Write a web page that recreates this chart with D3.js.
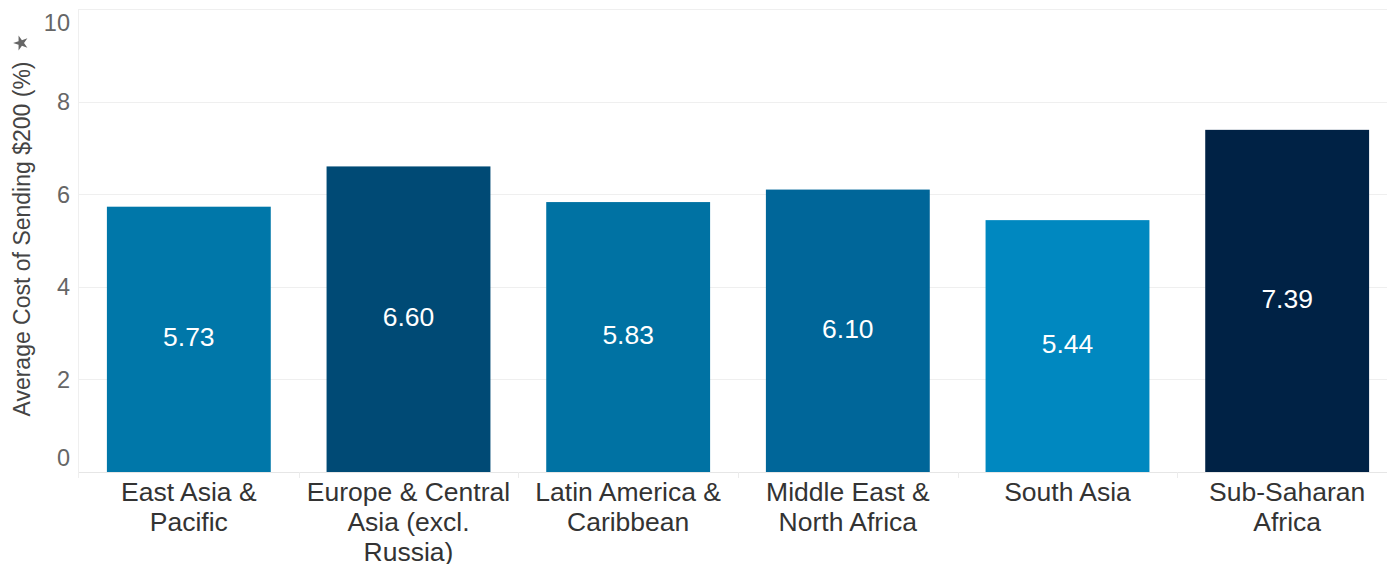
<!DOCTYPE html>
<html>
<head>
<meta charset="utf-8">
<script src="https://cdn.jsdelivr.net/npm/d3@7"></script>
<style>
  html, body { margin: 0; padding: 0; background: #fff; }
  svg { display: block; font-family: "Liberation Sans", Arial, sans-serif; }
</style>
</head>
<body>
<svg id="chart" width="1387" height="564"></svg>
<script>
// Average cost of sending $200, by region (%)
const regions = [
  ["East Asia &", "Pacific"],
  ["Europe & Central", "Asia (excl.", "Russia)"],
  ["Latin America &", "Caribbean"],
  ["Middle East &", "North Africa"],
  ["South Asia"],
  ["Sub-Saharan", "Africa"]
];
const costs = [5.73, 6.60, 5.83, 6.10, 5.44, 7.39];
const barColors = ["#0077a9", "#004a75", "#0072a3", "#006699", "#0088c0", "#002245"];
const yTicks = [0, 2, 4, 6, 8, 10];
const yTitle = "Average Cost of Sending $200 (%)";

const svg = d3.select("#chart");
const paneLeft = 79, paneRight = 1397, paneTop = 9, paneBottom = 472;

const x = d3.scaleBand()
  .domain(d3.range(costs.length))
  .range([paneLeft, paneRight])
  .paddingInner(0.254)
  .paddingOuter(0.127);

const y = d3.scaleLinear().domain([0, 10]).range([paneBottom, paneTop]);

// horizontal gridlines
svg.append("g").selectAll("line")
  .data(yTicks)
  .join("line")
  .attr("x1", paneLeft).attr("x2", 1387)
  .attr("y1", d => Math.round(y(d)) + 0.5)
  .attr("y2", d => Math.round(y(d)) + 0.5)
  .attr("stroke", d => d === 0 ? "#e6e6e6" : "#efefef")
  .attr("stroke-width", 1);

// left pane border and column dividers below the axis
svg.append("line")
  .attr("x1", paneLeft - 0.5).attr("x2", paneLeft - 0.5)
  .attr("y1", paneTop).attr("y2", paneBottom + 6)
  .attr("stroke", "#efefef");
const step = x.step();
svg.append("g").selectAll("line")
  .data(d3.range(1, costs.length))
  .join("line")
  .attr("x1", i => Math.round(paneLeft + step * i) + 0.5)
  .attr("x2", i => Math.round(paneLeft + step * i) + 0.5)
  .attr("y1", paneBottom).attr("y2", paneBottom + 6)
  .attr("stroke", "#ececec");

// y tick labels (end labels pulled inside the pane)
svg.append("g").selectAll("text")
  .data(yTicks)
  .join("text")
  .attr("x", 70)
  .attr("y", d => y(d) + (d === 10 ? 14 : d === 0 ? -14 : 0))
  .attr("dy", "0.36em")
  .attr("text-anchor", "end")
  .attr("fill", "#666")
  .attr("font-size", 23.5)
  .text(d => d);

// y axis title with pin marker
const titleG = svg.append("g").attr("transform", "translate(30,239) rotate(-90)");
titleG.append("text")
  .attr("text-anchor", "middle")
  .attr("fill", "#444")
  .attr("font-size", 23)
  .text(yTitle);
svg.append("path")
  .attr("d", d3.symbol(d3.symbolStar, 70)())
  .attr("transform", "translate(21,43) rotate(-90)")
  .attr("fill", "#666");

// bars
svg.append("g").selectAll("rect")
  .data(costs)
  .join("rect")
  .attr("x", (d, i) => x(i))
  .attr("width", x.bandwidth())
  .attr("y", d => y(d))
  .attr("height", d => y(0) - y(d))
  .attr("fill", (d, i) => barColors[i]);

// value labels
svg.append("g").selectAll("text")
  .data(costs)
  .join("text")
  .attr("x", (d, i) => x(i) + x.bandwidth() / 2)
  .attr("y", d => (y(d) + y(0)) / 2)
  .attr("dy", "0.26em")
  .attr("text-anchor", "middle")
  .attr("fill", "#fff")
  .attr("font-size", 26.5)
  .text(d => d.toFixed(2));

// category labels
const cat = svg.append("g").selectAll("text")
  .data(regions)
  .join("text")
  .attr("x", (d, i) => x(i) + x.bandwidth() / 2)
  .attr("y", 492)
  .attr("text-anchor", "middle")
  .attr("fill", "#333")
  .attr("font-size", 26.5);
cat.selectAll("tspan")
  .data(d => d)
  .join("tspan")
  .attr("x", function () { return d3.select(this.parentNode).attr("x"); })
  .attr("dy", (d, j) => j === 0 ? "0.34em" : 30)
  .text(d => d);
</script>
</body>
</html>
